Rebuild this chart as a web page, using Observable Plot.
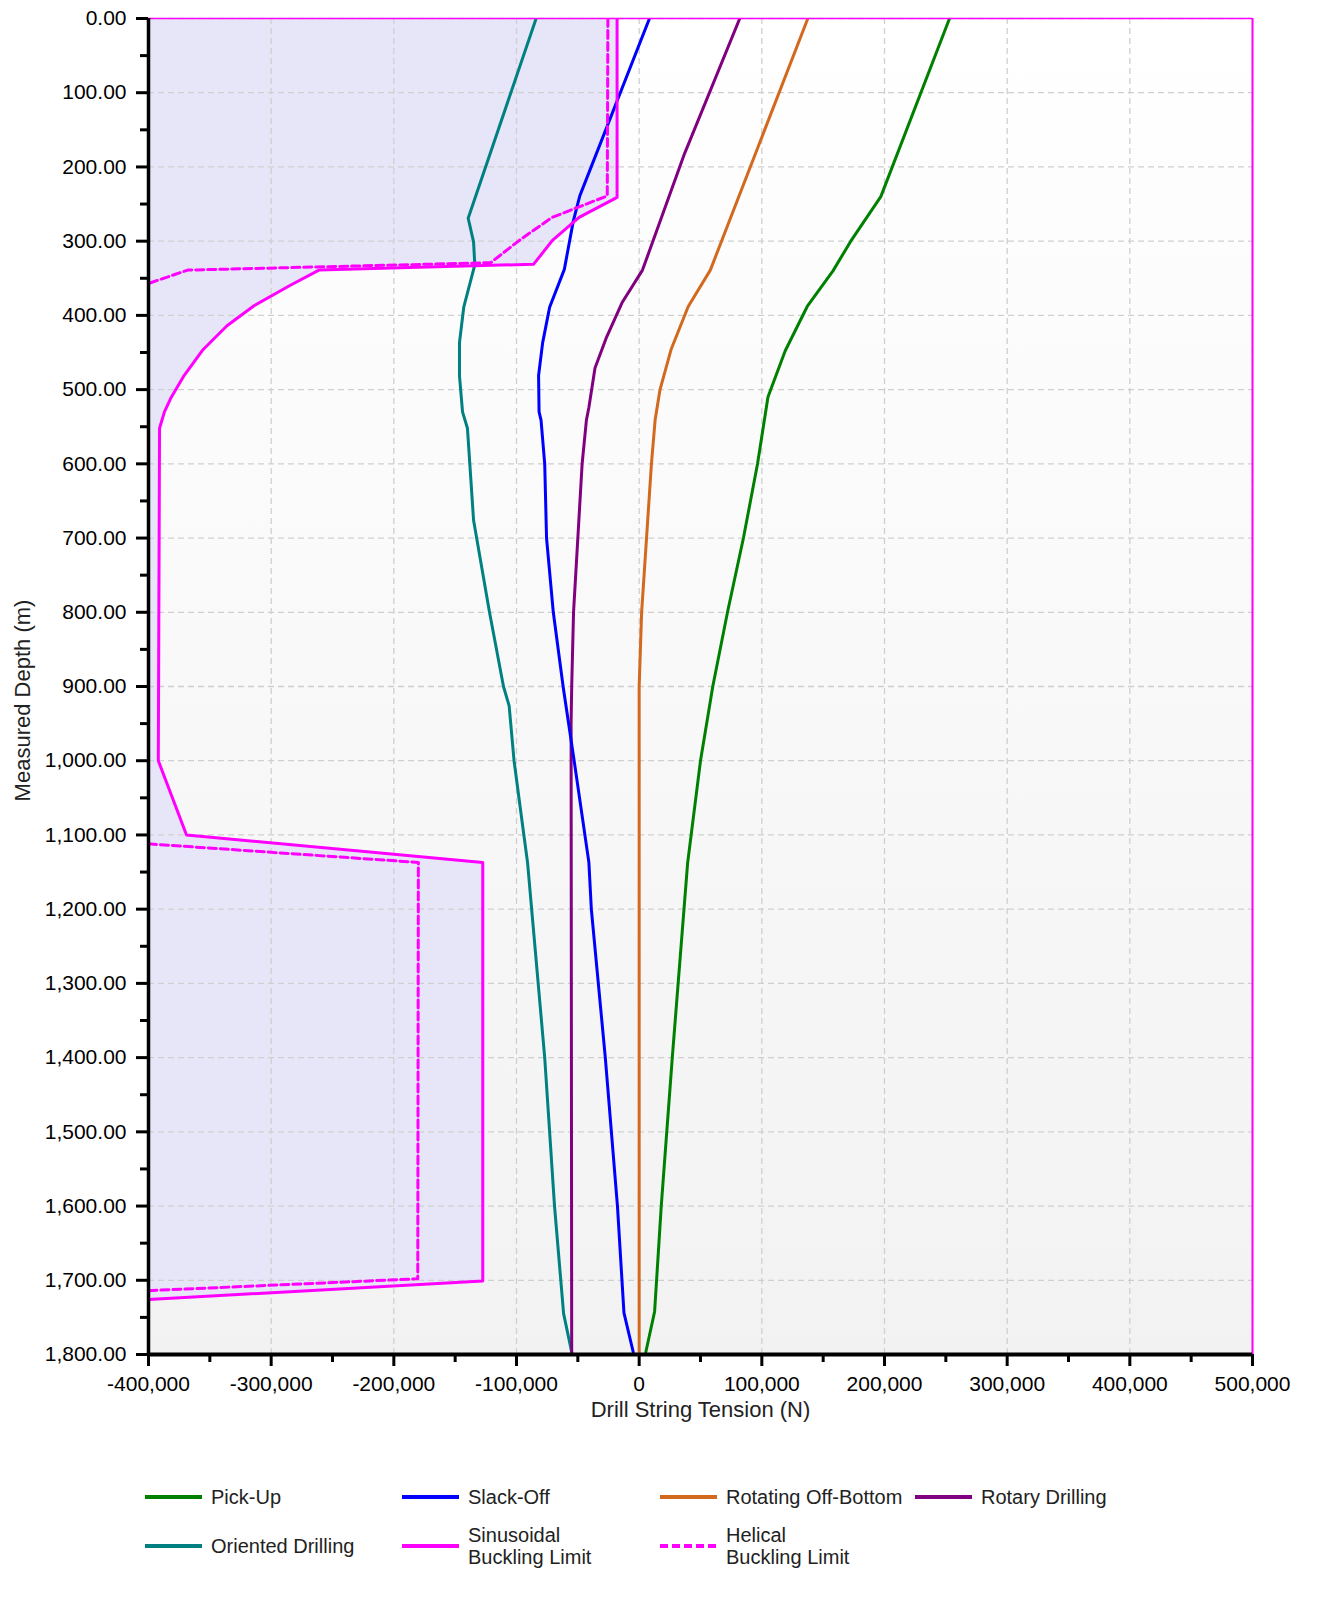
<!DOCTYPE html>
<html>
<head>
<meta charset="utf-8">
<script src="https://cdn.jsdelivr.net/npm/d3@7"></script>
<script src="https://cdn.jsdelivr.net/npm/@observablehq/plot@0.6"></script>
<style>
  html, body { margin: 0; padding: 0; background: #fff; font-family: "Liberation Sans", Arial, sans-serif; overflow: hidden; }
  #chart { width: 1331px; height: 1440px; }
  #chart svg { display: block; }
  #legend { position: relative; width: 1331px; height: 159px; }
  .item { position: absolute; display: flex; align-items: center; font-size: 20px; color: #222; transform: translateY(-50%); line-height: 22px; }
  .item svg { margin-right: 9px; flex: none; display: block; }
</style>
</head>
<body>
<div id="chart"></div>
<div id="legend"></div>
<script>
// ---- Data (depth in m, tension in N) ----
const yTicks = [0, 100, 200, 300, 400, 500, 600, 700, 800, 900, 1000, 1100, 1200, 1300, 1400, 1500, 1600, 1700, 1800];
const xTicks = [-400000, -300000, -200000, -100000, 0, 100000, 200000, 300000, 400000, 500000];

const pickUpDepth   = [0, 240, 300, 340, 388, 448, 510, 600, 700, 800, 900, 1000, 1138, 1400, 1600, 1742, 1797];
const pickUpTension = [253000, 197000, 172500, 158000, 137000, 119000, 105000, 96500, 85000, 72000, 60000, 50000, 39500, 27000, 18000, 12600, 5400];

const slackOffDepth   = [0, 239, 273, 338, 389, 437, 481, 530, 541, 600, 700, 800, 900, 1000, 1137, 1200, 1400, 1600, 1744, 1797];
const slackOffTension = [8400, -48400, -53700, -61000, -73000, -78700, -82000, -81600, -80000, -77000, -75500, -70000, -62000, -53000, -41000, -39000, -27600, -17700, -12400, -4800];

const rotOffDepth   = [0, 339, 388, 446, 500, 541, 600, 700, 800, 900, 1800];
const rotOffTension = [137500, 58000, 40000, 26000, 17000, 13000, 10000, 6000, 2000, 0, 0];

const rotaryDepth   = [0, 182, 339, 383, 431, 471, 524, 541, 600, 700, 800, 900, 950, 1800];
const rotaryTension = [82000, 37000, 2700, -14000, -27000, -36000, -41000, -43000, -46500, -50000, -53500, -55000, -55500, -55000];

const orientedDepth   = [0, 269, 301, 332, 389, 437, 481, 530, 552, 676, 800, 900, 926, 1000, 1100, 1137, 1400, 1600, 1745, 1797];
const orientedTension = [-84000, -139400, -135000, -134000, -143000, -146500, -146500, -144000, -140000, -135000, -122000, -110600, -106000, -102000, -94000, -91000, -77000, -69000, -61600, -55000];

const sinusDepth   = [0, 241, 268, 299, 331, 339, 359, 387, 414, 447, 481, 512, 530, 552, 1000, 1100, 1137, 1701, 1726];
const sinusTension = [-18000, -18000, -49000, -70700, -86000, -261000, -284000, -314000, -336000, -356000, -371000, -382000, -387000, -391000, -392000, -369000, -127500, -127500, -400000];

const helicalDepth   = [0, 239, 268, 298, 329, 339, 357, null, 1112, 1137, 1698, 1714];
const helicalTension = [-25500, -26000, -71000, -97000, -121000, -368000, -400000, null, -400000, -180000, -180500, -400000];

const seriesNames  = ["Pick-Up", "Slack-Off", "Rotating Off-Bottom", "Rotary Drilling", "Oriented Drilling", "Sinusoidal\nBuckling Limit", "Helical\nBuckling Limit"];
const seriesColors = ["#008000", "#0000ff", "#d2691e", "#800080", "#008080", "#ff00ff", "#ff00ff"];

// ---- Build tables ----
const zip = (ds, ts) => ds.map((d, i) => ({depth: d, t: ts[i]}));
const pickUp   = zip(pickUpDepth, pickUpTension);
const slackOff = zip(slackOffDepth, slackOffTension);
const rotOff   = zip(rotOffDepth, rotOffTension);
const rotary   = zip(rotaryDepth, rotaryTension);
const oriented = zip(orientedDepth, orientedTension);
const sinus    = zip(sinusDepth, sinusTension);
const helical  = zip(helicalDepth, helicalTension);

const yMinor = yTicks.slice(1).map((d, i) => (d + yTicks[i]) / 2);
const xMinor = xTicks.slice(1).map((d, i) => (d + xTicks[i]) / 2);

const fy = d3.format(",.2f");
const fx = d => d3.format(",")(d).replace("\u2212", "-");

const lineOpts = (c, extra = {}) => ({x: "t", y: "depth", stroke: c, strokeWidth: 3, clip: true, defined: d => d.depth != null, ...extra});

const chart = Plot.plot({
  width: 1331,
  height: 1440,
  marginLeft: 148,
  marginRight: 79,
  marginTop: 18,
  marginBottom: 86,
  style: {fontFamily: "'Liberation Sans', Arial, sans-serif", fontSize: "20px", color: "#000", background: "transparent"},
  x: {domain: [-400000, 500000], axis: null},
  y: {domain: [0, 1800], reverse: true, axis: null},
  marks: [
    Plot.frame({fill: "#ffffff", stroke: null}),
    Plot.areaX(sinus, {y: "depth", x1: -400000, x2: "t", fill: "#e6e6f8", clip: true, curve: "linear"}),
    Plot.gridX(xTicks, {stroke: "#cfcfcf", strokeOpacity: 1, strokeWidth: 1.3, strokeDasharray: "6,4"}),
    Plot.gridY(yTicks, {stroke: "#cfcfcf", strokeOpacity: 1, strokeWidth: 1.3, strokeDasharray: "6,4"}),
    Plot.line(oriented, lineOpts(seriesColors[4])),
    Plot.line(rotary, lineOpts(seriesColors[3])),
    Plot.line(rotOff, lineOpts(seriesColors[2])),
    Plot.line(slackOff, lineOpts(seriesColors[1])),
    Plot.line(pickUp, lineOpts(seriesColors[0])),
    Plot.line(helical, lineOpts(seriesColors[6], {strokeDasharray: "8,4"})),
    Plot.line(sinus, lineOpts(seriesColors[5])),
    Plot.ruleY([0], {stroke: "#ff00ff", strokeWidth: 1.5}),
    Plot.ruleX([500000], {stroke: "#ff00ff", strokeWidth: 2}),
    Plot.ruleX([-400000], {stroke: "#000", strokeWidth: 3.5}),
    Plot.ruleY([1800], {stroke: "#000", strokeWidth: 4}),
    Plot.axisY(yTicks, {tickSize: 12, tickPadding: 10, strokeWidth: 3, tickFormat: fy, label: null, fill: "#000", fontSize: 21}),
    Plot.axisY(yMinor, {tickSize: 8, strokeWidth: 3, tickFormat: () => "", label: null}),
    Plot.axisX(xTicks, {tickSize: 12, tickPadding: 10, strokeWidth: 3, tickFormat: fx, label: null, fill: "#000", fontSize: 21}),
    Plot.axisX(xMinor, {tickSize: 8, strokeWidth: 3, tickFormat: () => "", label: null}),
    Plot.text(["Drill String Tension (N)"], {frameAnchor: "bottom", dy: 62, fontSize: 22, fill: "#222"}),
    Plot.text(["Measured Depth (m)"], {frameAnchor: "left", textAnchor: "middle", dx: -126, dy: 14, rotate: -90, fontSize: 22, fill: "#222"})
  ]
});

// vertical background gradient in the plot frame
const ns = "http://www.w3.org/2000/svg";
const defs = document.createElementNS(ns, "defs");
defs.innerHTML = '<linearGradient id="bgGrad" x1="0" y1="0" x2="0" y2="1"><stop offset="0" stop-color="#ffffff"/><stop offset="1" stop-color="#f2f2f2"/></linearGradient>';
chart.insertBefore(defs, chart.firstChild);
const frameEl = chart.querySelector('[aria-label="frame"]');
if (frameEl) {
  if (frameEl.tagName.toLowerCase() === "rect") frameEl.setAttribute("fill", "url(#bgGrad)");
  else frameEl.querySelectorAll("rect").forEach(r => r.setAttribute("fill", "url(#bgGrad)"));
  frameEl.setAttribute("fill", "url(#bgGrad)");
}
document.getElementById("chart").appendChild(chart);

// ---- Legend ----
const legendPos = [
  {left: 145, top: 57}, {left: 402, top: 57}, {left: 660, top: 57}, {left: 915, top: 57},
  {left: 145, top: 106}, {left: 402, top: 106}, {left: 660, top: 106}
];
const legend = document.getElementById("legend");
seriesNames.forEach((name, i) => {
  const div = document.createElement("div");
  div.className = "item";
  div.style.left = legendPos[i].left + "px";
  div.style.top = legendPos[i].top + "px";
  const dash = i === 6 ? ' stroke-dasharray="8,4"' : "";
  div.innerHTML = `<svg width="57" height="6"><line x1="0" y1="3" x2="57" y2="3" stroke="${seriesColors[i]}" stroke-width="4"${dash}/></svg><span>${name.replace("\n", "<br>")}</span>`;
  legend.appendChild(div);
});
</script>
</body>
</html>
